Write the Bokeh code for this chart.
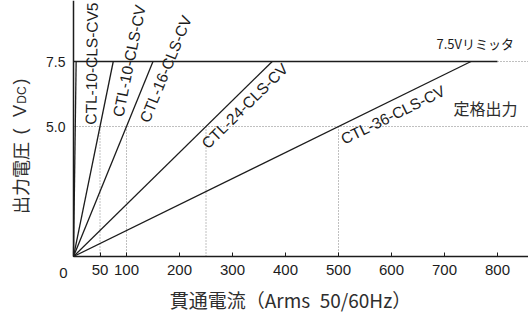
import math
from bokeh.plotting import figure
from bokeh.models import ColumnDataSource, FixedTicker, Label, Range1d, LinearAxis
from bokeh.core.properties import value
from bokeh.embed import file_html
from bokeh.resources import INLINE

# ---------------- data ----------------
models = ["CTL-10-CLS-CV5", "CTL-10-CLS-CV", "CTL-16-CLS-CV", "CTL-24-CLS-CV", "CTL-36-CLS-CV"]
limit_current = [5, 75, 150, 375, 750]      # Arms where each line reaches the 7.5 V limiter
rated_current = [50, 100, 250, 500]         # Arms at rated 5.0 V output (dotted guides)
limit_voltage = 7.5
rated_voltage = 5.0
limiter_solid_end = 800
x_ticks = [0, 50, 100, 200, 300, 400, 500, 600, 700, 800]
y_ticks = [5.0, 7.5]

# ---------------- layout / style ----------------
W, H = 528, 314
OX, OY = 73, 256          # pixel position of the data origin
SX, SY = 0.53, 26.0       # px per A, px per V
x_lo, x_hi = -OX / SX, (W - OX) / SX
y_lo, y_hi = -(H - OY) / SY, OY / SY
INK = "#1c1c1c"
SOFT = "#2e2e2e"
DOT = "#808080"
LATIN = "Liberation Sans"
CJK = "Noto Sans CJK JP"

p = figure(width=W, height=H, output_backend="svg", toolbar_location=None,
           x_range=Range1d(x_lo, x_hi), y_range=Range1d(y_lo, y_hi),
           x_axis_type=None, y_axis_type=None,
           min_border_left=0, min_border_right=0, min_border_top=0, min_border_bottom=0)
p.outline_line_color = None
p.grid.visible = False
p.background_fill_color = "white"
p.border_fill_color = "white"

# dotted guides
p.line([0, x_hi], [rated_voltage, rated_voltage], line_color=DOT, line_width=1, line_dash="1 2")
p.segment(x0=rated_current, y0=[0] * len(rated_current), x1=rated_current,
          y1=[rated_voltage] * len(rated_current), line_color=DOT, line_width=1, line_dash="1 2")
# limiter line
p.line([0, limiter_solid_end], [limit_voltage, limit_voltage], line_color=INK, line_width=1.6)
p.line([limiter_solid_end, x_hi], [limit_voltage, limit_voltage], line_color=DOT, line_width=1, line_dash="1 2")

# model lines
src = ColumnDataSource(dict(xs=[[0, c] for c in limit_current],
                            ys=[[0, limit_voltage] for _ in limit_current]))
p.multi_line("xs", "ys", source=src, line_color=INK, line_width=1.3)

# rotated model labels (placed just below/right of each line)
label_v0 = [5.08, 5.5, 5.4, 4.6, 4.95]   # voltage along the line where the text starts
label_gap = [7, 7, 6, 4, 5]               # perpendicular gap in px
lx, ly, la = [], [], []
for c, v0, d in zip(limit_current, label_v0, label_gap):
    th = math.atan2(limit_voltage * SY, c * SX)
    lx.append(v0 / limit_voltage * c + d * math.sin(th) / SX)
    ly.append(v0 - d * math.cos(th) / SY)
    la.append(th)
p.text(x=lx, y=ly, text=models, angle=la, text_align="left", text_baseline="top",
       text_font=value(LATIN), text_font_size="15.5px", text_color=INK)

# axes, fixed at the data origin
xax = LinearAxis(fixed_location=0, bounds=(0, x_hi), ticker=FixedTicker(ticks=x_ticks))
xax.major_label_overrides = {0: ""}
xax.major_label_text_font = LATIN
xax.major_label_text_font_size = "15px"
xax.major_label_text_color = INK
xax.major_label_standoff = 8
xax.major_tick_in = 4
xax.major_tick_out = 0
xax.minor_tick_line_color = None
xax.axis_line_width = 1.5
xax.axis_line_color = INK
xax.major_tick_line_color = INK
p.add_layout(xax, "below")

yax = LinearAxis(fixed_location=0, bounds=(0, y_hi), ticker=FixedTicker(ticks=y_ticks))
yax.major_label_overrides = {5.0: "5.0", 7.5: "7.5"}
yax.major_label_text_font = LATIN
yax.major_label_text_font_size = "14px"
yax.major_label_text_color = INK
yax.major_label_standoff = 8
yax.major_tick_in = 0
yax.major_tick_out = 0
yax.minor_tick_line_color = None
yax.axis_line_width = 1.5
yax.axis_line_color = INK
p.add_layout(yax, "left")


def xd(px):  # canvas pixel -> data x
    return (px - OX) / SX


def yd(py):  # canvas pixel -> data y
    return (OY - py) / SY


def put(txt, px, py, font, size, angle=0.0, align="center", color=INK):
    p.add_layout(Label(x=xd(px), y=yd(py), text=txt, angle=angle, text_align=align,
                       text_baseline="middle", text_font=font, text_font_size=size,
                       text_color=color))


# "0" tick label sits left of the axis
put("0", 63, 272, LATIN, "15px")

# x axis title
put("貫通電流（Arms\u200250/60Hz）", 290, 299, CJK, "19px", color=SOFT)

# y axis title pieces (vertical)
for txt, cx, cy, font, size in [("出力電圧", 19, 177.5, CJK, "18px"),
                                ("(", 19, 131, LATIN, "18px"),
                                ("V", 19, 110.5, LATIN, "18px"),
                                ("DC", 21.5, 94.5, LATIN, "12px"),
                                (")", 19, 81, LATIN, "18px")]:
    put(txt, cx, cy, font, size, angle=math.pi / 2, color=SOFT)

# annotations on the right
put("7.5Vリミッタ", 436, 42.7, CJK, "13px", align="left")
put("定格出力", 453, 107, CJK, "16px", align="left", color=SOFT)

open("out.html", "w").write(file_html(p, INLINE))
